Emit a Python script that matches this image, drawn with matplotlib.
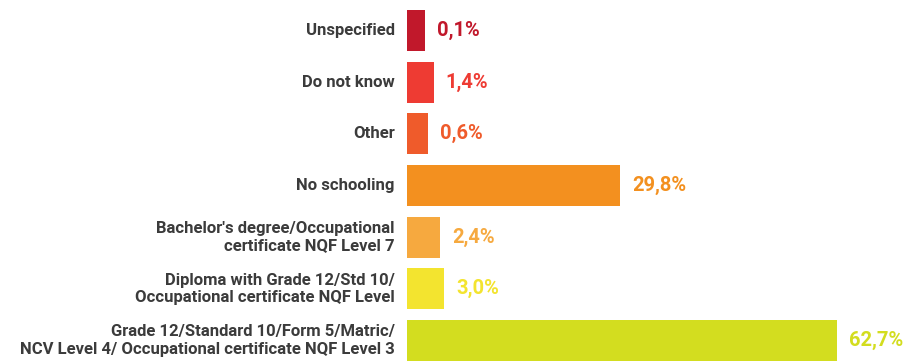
import numpy as np
import matplotlib
matplotlib.use('Agg')
import matplotlib.pyplot as plt

# Highest level of education, share of respondents (%)
categories = [
    'Unspecified',
    'Do not know',
    'Other',
    'No schooling',
    "Bachelor's degree/Occupational\ncertificate NQF Level 7",
    'Diploma with Grade 12/Std 10/\nOccupational certificate NQF Level',
    'Grade 12/Standard 10/Form 5/Matric/\nNCV Level 4/ Occupational certificate NQF Level 3',
]
values = [0.1, 1.4, 0.6, 29.8, 2.4, 3.0, 62.7]
value_labels = ['0,1%', '1,4%', '0,6%', '29,8%', '2,4%', '3,0%', '62,7%']
colors = ['#c1182b', '#ee3b33', '#ef5b2b', '#f3901f', '#f6a93f', '#f3e42f', '#d3dd1f']

stub = 2.63   # every bar gets a small visible base
gap = 1.85    # space between bar end and value text

fig = plt.figure(figsize=(9.19, 3.61), dpi=100)
ax = fig.add_axes([0, 0, 1, 1])

y = np.arange(len(categories))
vals = np.array(values)
ax.barh(y, vals + stub, left=-stub, height=0.79, color=colors)

for i in range(len(categories)):
    ax.text(-stub - gap, y[i], categories[i], ha='right', va='center',
            fontsize=12, fontweight='bold', family='Roboto', color='#3b3b3b',
            linespacing=1.2)
    ax.text(vals[i] + gap, y[i], value_labels[i], ha='left', va='center',
            fontsize=14.5, fontweight='bold', family='Roboto', color=colors[i])

ax.set_xlim(-64.5, 75.2)
ax.set_ylim(6.397, -0.590)
ax.axis('off')

fig.savefig('out.png', dpi=100, facecolor='white')
